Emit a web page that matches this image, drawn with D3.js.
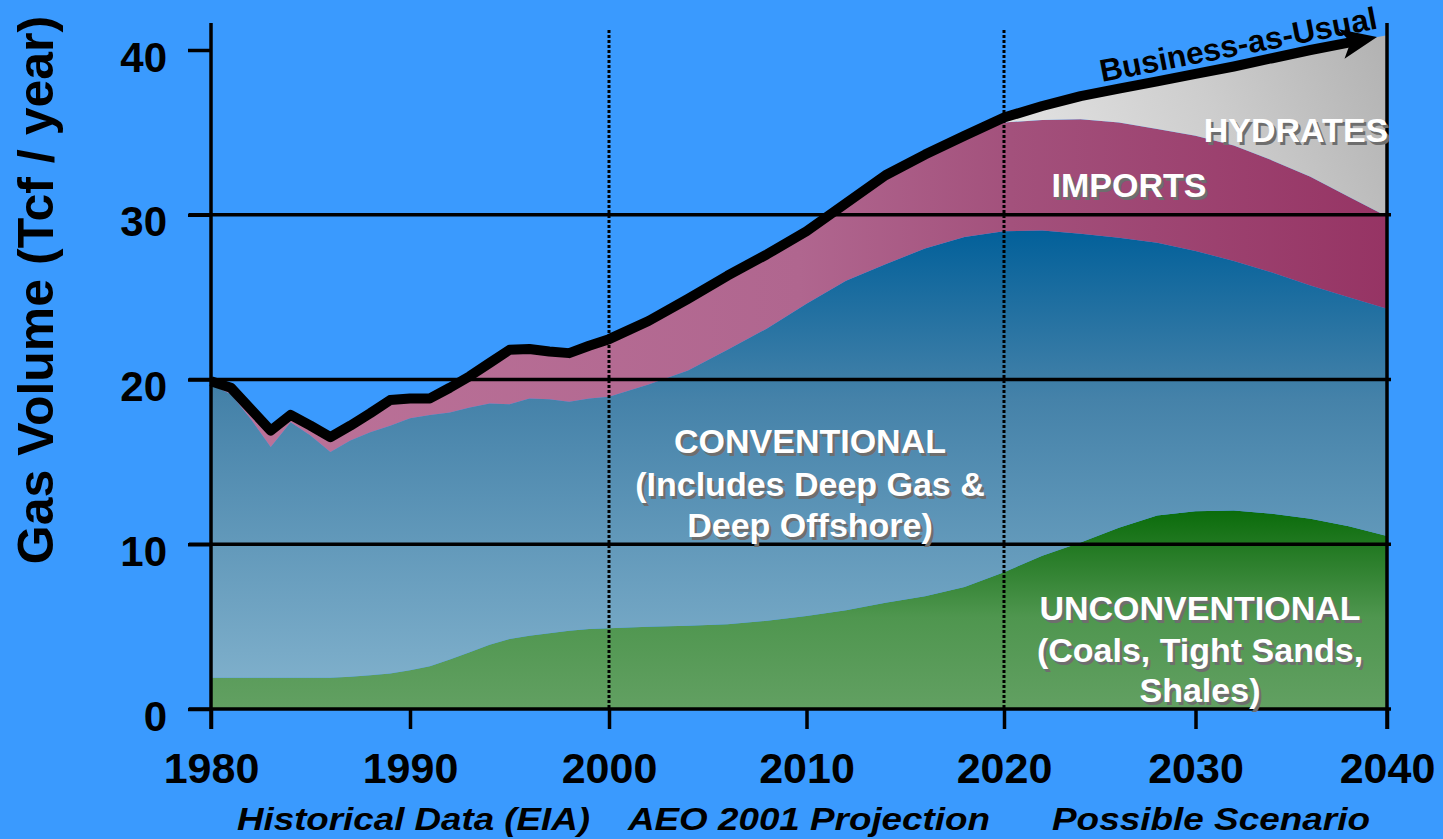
<!DOCTYPE html>
<html>
<head>
<meta charset="utf-8">
<script src="https://cdn.jsdelivr.net/npm/d3@7"></script>
<style>
  html, body { margin: 0; padding: 0; background: #3a9afe; }
  svg { display: block; font-family: "Liberation Sans", Arial, Helvetica, sans-serif; }
</style>
</head>
<body>
<svg id="chart" width="1443" height="839"></svg>
<script>
// U.S. natural gas supply by source, Tcf per year
const years = [
  1980, 1981, 1982, 1983, 1984, 1985, 1986, 1987, 1988, 1989, 1990,
  1991, 1992, 1993, 1994, 1995, 1996, 1997, 1998, 1999, 2000,
  2002, 2004, 2006, 2008, 2010, 2012, 2014, 2016, 2018, 2020,
  2022, 2024, 2026, 2028, 2030, 2032, 2034, 2036, 2038, 2040
];
const unconventional = [
  1.9, 1.9, 1.9, 1.9, 1.9, 1.9, 1.9, 1.95, 2.05, 2.15, 2.35,
  2.6, 3.0, 3.45, 3.9, 4.25, 4.45, 4.6, 4.75, 4.85, 4.9,
  5.0, 5.05, 5.15, 5.35, 5.65, 6.0, 6.45, 6.85, 7.4, 8.3,
  9.3, 10.1, 11.0, 11.75, 12.0, 12.05, 11.85, 11.55, 11.1, 10.5
];
const conventional = [
  17.8, 17.2, 15.7, 14.0, 15.5, 14.7, 13.7, 14.35, 14.75, 15.05, 15.3,
  15.25, 15.0, 14.85, 14.65, 14.25, 14.4, 14.2, 13.9, 14.0, 14.05,
  14.7, 15.5, 16.65, 17.75, 18.95, 20.0, 20.55, 21.1, 21.25, 20.7,
  19.75, 18.75, 17.6, 16.55, 15.8, 15.15, 14.65, 14.15, 13.9, 13.8
];
const imports = [
  0.2, 0.4, 0.6, 1.0, 0.45, 0.6, 0.9, 0.9, 1.15, 1.55, 1.2,
  1.0, 1.5, 1.9, 2.45, 3.3, 3.0, 2.9, 2.95, 3.2, 3.5,
  3.85, 4.35, 4.5, 4.5, 4.4, 4.7, 5.4, 5.7, 6.15, 6.6,
  6.7, 6.95, 7.0, 6.9, 7.0, 7.0, 6.8, 6.6, 6.1, 5.6
];
const hydrates = [
  0, 0, 0, 0, 0, 0, 0, 0, 0, 0, 0,
  0, 0, 0, 0, 0, 0, 0, 0, 0, 0,
  0, 0, 0, 0, 0, 0, 0, 0, 0, 0.3,
  0.85, 1.4, 2.05, 2.9, 3.75, 4.8, 6.2, 7.7, 9.35, 11.0
];
const yearTicks = [1980, 1990, 2000, 2010, 2020, 2030, 2040];
const volumeTicks = [0, 10, 20, 30, 40];
const gridValues = [10, 20, 30];
const periodBreaks = [2000, 2020];

const W = 1443, H = 839;
const FONT = '"Liberation Sans", Arial, Helvetica, sans-serif';
const svg = d3.select("#chart");
svg.append("rect").attr("width", W).attr("height", H).attr("fill", "#3a9afe");

// Year axis: history, AEO projection and scenario each get their own span
const x = d3.scaleLinear().domain([1980, 2000, 2020, 2040]).range([211, 609, 1004, 1387]);
const y = d3.scaleLinear().domain([0, 40]).range([709, 50]);

const keys = ["unconventional", "conventional", "imports", "hydrates"];
const rows = years.map((yr, i) => ({
  year: yr,
  unconventional: unconventional[i],
  conventional: conventional[i],
  imports: imports[i],
  hydrates: hydrates[i]
}));
const series = d3.stack().keys(keys)(rows);

// ---- gradients ----
const defs = svg.append("defs");
function grad(id, x1, y1, x2, y2, stops) {
  const g = defs.append("linearGradient").attr("id", id)
    .attr("gradientUnits", "userSpaceOnUse")
    .attr("x1", x1).attr("y1", y1).attr("x2", x2).attr("y2", y2);
  stops.forEach(s => g.append("stop").attr("offset", s[0]).attr("stop-color", s[1]));
}
grad("gUnconv", 0, 505, 0, 709, [[0, "#076a07"], [0.28, "#2c7f2c"], [0.55, "#4f964f"], [1, "#62a062"]]);
grad("gConv", 0, 230, 0, 700, [[0, "#02609a"], [0.36, "#4582a9"], [1, "#82b2cd"]]);
grad("gImports", 211, 0, 1387, 0, [[0, "#bc7399"], [0.5, "#b0668f"], [0.68, "#a3517c"], [1, "#963464"]]);
grad("gHydrates", 1040, 190, 1387, 40, [[0, "#e2e2e2"], [0.5, "#cdcdcd"], [1, "#b2b2b2"]]);
const fills = { unconventional: "url(#gUnconv)", conventional: "url(#gConv)", imports: "url(#gImports)", hydrates: "url(#gHydrates)" };

// ---- stacked areas ----
const area = d3.area()
  .x(d => x(d.data.year))
  .y0(d => y(d[0]))
  .y1(d => y(d[1]));
svg.append("g").selectAll("path").data(series).join("path")
  .attr("d", area)
  .attr("fill", d => fills[d.key]);

// ---- grid lines ----
svg.append("g").selectAll("line").data(gridValues).join("line")
  .attr("x1", 189).attr("x2", 1391)
  .attr("y1", d => y(d)).attr("y2", d => y(d))
  .attr("stroke", "#000").attr("stroke-width", 3.5);

// period dividers
svg.append("g").selectAll("line").data(periodBreaks).join("line")
  .attr("x1", d => x(d)).attr("x2", d => x(d))
  .attr("y1", 30).attr("y2", y(0))
  .attr("stroke", "#000").attr("stroke-width", 3)
  .attr("stroke-dasharray", "3,2");

// ---- axes ----
const yAxis = d3.axisLeft(y).tickValues(volumeTicks).tickSize(23).tickPadding(21).tickSizeOuter(0);
const gy = svg.append("g").attr("transform", `translate(${x(1980)},0)`).call(yAxis);
gy.select(".domain").remove();
gy.selectAll(".tick line").attr("stroke", "#000").attr("stroke-width", 3.5);
gy.selectAll(".tick text")
  .attr("dy", "0.5em")
  .style("font-family", FONT).style("font-size", "42px").style("font-weight", "bold")
  .attr("fill", "#000");

const xAxis = d3.axisBottom(x).tickValues(yearTicks).tickFormat(d3.format("d"))
  .tickSize(20).tickPadding(23).tickSizeOuter(0);
const gx = svg.append("g").attr("transform", `translate(0,${y(0)})`).call(xAxis);
gx.select(".domain").remove();
gx.selectAll(".tick line").attr("stroke", "#000").attr("stroke-width", 3.5);
gx.selectAll(".tick text")
  .style("font-family", FONT).style("font-size", "43px").style("font-weight", "bold")
  .attr("fill", "#000");

// frame: baseline, left and right edges
svg.append("line").attr("x1", 189).attr("x2", 1391).attr("y1", y(0)).attr("y2", y(0))
  .attr("stroke", "#000").attr("stroke-width", 3.5);
svg.append("line").attr("x1", x(1980)).attr("x2", x(1980)).attr("y1", 23).attr("y2", y(0) + 20)
  .attr("stroke", "#000").attr("stroke-width", 3.5);
svg.append("line").attr("x1", x(2040)).attr("x2", x(2040)).attr("y1", 23).attr("y2", y(0) + 20)
  .attr("stroke", "#000").attr("stroke-width", 3.5);

// ---- total supply line with arrow ----
const totals = rows.map(r => ({ year: r.year, value: keys.reduce((s, k) => s + r[k], 0) }));
const n = totals.length;
const p0 = [x(totals[n - 2].year), y(totals[n - 2].value)];
const p1 = [x(totals[n - 1].year), y(totals[n - 1].value)];
const tipX = 1377;
const tFrac = (tipX - p0[0]) / (p1[0] - p0[0]);
const tip = [tipX, p0[1] + tFrac * (p1[1] - p0[1])];
const ang = Math.atan2(p1[1] - p0[1], p1[0] - p0[0]);

defs.append("clipPath").attr("id", "lineClip")
  .append("rect").attr("x", 0).attr("y", 0).attr("width", tipX - 14).attr("height", H);

svg.append("path")
  .datum(totals)
  .attr("clip-path", "url(#lineClip)")
  .attr("d", d3.line().x(d => x(d.year)).y(d => y(d.value)))
  .attr("fill", "none").attr("stroke", "#000").attr("stroke-width", 10)
  .attr("stroke-linejoin", "round");

svg.append("path")
  .attr("d", "M0,0 L-36,-15 L-27,0 L-36,15 Z")
  .attr("transform", `translate(${tip[0]},${tip[1]}) rotate(${ang * 180 / Math.PI})`)
  .attr("fill", "#000");

svg.append("text")
  .attr("transform", "translate(1102,82) rotate(-11)")
  .attr("font-family", FONT).attr("font-size", 31.5).attr("font-weight", "bold").attr("fill", "#000")
  .text("Business-as-Usual");

// ---- area labels (white with soft drop shadow) ----
function label(lines, cx, baselines, size) {
  const g = svg.append("g").attr("font-family", FONT).attr("font-size", size)
    .attr("font-weight", "bold").attr("text-anchor", "middle");
  lines.forEach((t, i) => {
    g.append("text").attr("x", cx + 2.5).attr("y", baselines[i] + 2.5).attr("fill", "#6e6e6e").text(t);
    g.append("text").attr("x", cx).attr("y", baselines[i]).attr("fill", "#fff").text(t);
  });
}
label(["CONVENTIONAL", "(Includes Deep Gas &", "Deep Offshore)"], 810, [453, 496, 537], 34);
label(["IMPORTS"], 1129, [197], 34);
label(["HYDRATES"], 1296, [142], 34);
label(["UNCONVENTIONAL", "(Coals, Tight Sands,", "Shales)"], 1200, [620, 662, 702], 34);

// ---- axis title and period captions ----
svg.append("text")
  .attr("transform", "translate(53,290) rotate(-90)")
  .attr("text-anchor", "middle")
  .attr("font-family", FONT).attr("font-size", 50).attr("font-weight", "bold").attr("fill", "#000")
  .text("Gas Volume (Tcf / year)");

const captions = [
  { text: "Historical Data (EIA)", x0: 237, len: 353 },
  { text: "AEO 2001 Projection", x0: 628, len: 362 },
  { text: "Possible Scenario", x0: 1052, len: 318 }
];
svg.append("g").selectAll("text").data(captions).join("text")
  .attr("x", d => d.x0).attr("y", 830)
  .attr("textLength", d => d.len).attr("lengthAdjust", "spacingAndGlyphs")
  .attr("font-family", FONT).attr("font-size", 31).attr("font-weight", "bold")
  .attr("font-style", "italic").attr("fill", "#000")
  .text(d => d.text);
</script>
</body>
</html>
